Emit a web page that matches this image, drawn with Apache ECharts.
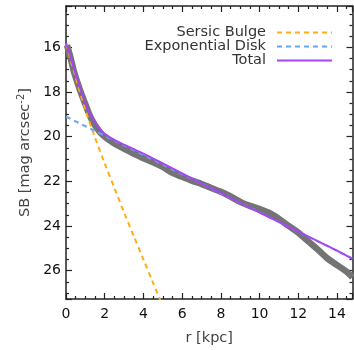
<!DOCTYPE html>
<html>
<head>
<meta charset="utf-8">
<script src="https://cdn.jsdelivr.net/npm/echarts@6/dist/echarts.min.js"></script>
<style>
html,body{margin:0;padding:0;background:#fff;}
#c{width:354px;height:350px;}
</style>
</head>
<body>
<div id="c"></div>
<script>
// Observed surface-brightness profile (gray band)
const rData  = [0.05,0.2,0.4,0.6,0.8,1.0,1.2,1.4,1.6,1.8,2.0,2.4,2.8,3.2,3.6,4.0,4.5,5.0,5.5,6.0,6.5,7.0,7.5,8.0,8.5,9.0,9.5,10.0,10.5,11.0,11.5,12.0,12.5,13.0,13.5,14.0,14.5,14.8];
const sbData = [15.9,16.35,17.05,17.6,18.1,18.55,19.0,19.35,19.62,19.84,20.0,20.25,20.45,20.62,20.8,20.97,21.15,21.36,21.62,21.8,21.97,22.12,22.3,22.47,22.68,22.92,23.1,23.24,23.42,23.68,24.0,24.3,24.68,25.05,25.45,25.75,26.05,26.3];

// Sersic bulge model
const rBulge  = [0,0.5,1.0,1.5,2.0,2.5,3.0,3.5,4.0,4.5,5.0];
const sbBulge = [15.85,17.35,18.8,20.05,21.2,22.3,23.4,24.45,25.5,26.55,27.6];

// Exponential disk model
const rDisk  = [0,14.8];
const sbDisk = [19.1,25.46];

// Total model
const rTotal  = [0,0.25,0.5,0.75,1.0,1.25,1.5,1.75,2.0,2.5,3.0,3.5,4.0,4.5,5.0,6.0,7.0,8.0,9.0,10.0,11.0,12.0,13.0,14.0,14.8];
const sbTotal = [15.8,16.48,17.2,17.88,18.52,19.0,19.38,19.66,19.88,20.15,20.36,20.56,20.76,20.98,21.2,21.65,22.1,22.52,22.97,23.4,23.82,24.25,24.68,25.1,25.47];

const seriesNames = ['Sersic Bulge','Exponential Disk','Total'];

const zip = (a,b) => a.map((v,i)=>[v,b[i]]);

const FONT = 'DejaVu Sans';
const axisLineStyle = {color:'#222', width:1.5};
const tickStyle = {color:'#222', width:1.2};

function xAx(pos, showLabel){
  return {
    type:'value', position:pos, min:0, max:14.8, interval:2,
    axisLine:{show:true, onZero:false, lineStyle:axisLineStyle},
    axisTick:{show:true, inside:true, length:6, lineStyle:tickStyle},
    minorTick:{show:true, splitNumber:4, length:3, lineStyle:tickStyle},
    splitLine:{show:false}, minorSplitLine:{show:false},
    axisLabel:{show:showLabel, showMaxLabel:false, margin:8, color:'#111', fontFamily:FONT, fontSize:14},
    name: showLabel ? 'r [kpc]' : '',
    nameLocation:'middle', nameGap:32,
    nameTextStyle:{color:'#444', fontFamily:FONT, fontSize:14.5}
  };
}
function yAx(pos, showLabel){
  return {
    type:'value', position:pos, inverse:true, min:14.15, max:27.27,
    minInterval:2, maxInterval:2, splitNumber:6,
    axisLine:{show:true, onZero:false, lineStyle:axisLineStyle},
    axisTick:{show:true, inside:true, length:6, lineStyle:tickStyle},
    minorTick:{show:true, splitNumber:4, length:3, lineStyle:tickStyle},
    splitLine:{show:false}, minorSplitLine:{show:false},
    axisLabel:{show:showLabel, showMinLabel:false, showMaxLabel:false, margin:5, color:'#111', fontFamily:FONT, fontSize:14},
    name: showLabel ? 'SB [mag arcsec{sup|-2}]' : '',
    nameLocation:'middle', nameGap:33,
    nameTextStyle:{color:'#444', fontFamily:FONT, fontSize:14.5,
      rich:{sup:{fontSize:10, color:'#444', fontFamily:FONT, verticalAlign:'top', padding:[0,0,6,0]}}}
  };
}

const chart = echarts.init(document.getElementById('c'), null, {renderer:'canvas'});
chart.setOption({
  animation:false,
  backgroundColor:'#fff',
  grid:{left:66, top:6, right:1.5, bottom:51, containLabel:false, outerBoundsMode:'none'},
  xAxis:[xAx('bottom', true), xAx('top', false)],
  yAxis:[yAx('left', true), yAx('right', false)],
  legend:{
    orient:'vertical', align:'right', right:16, top:20,
    itemWidth:55, itemHeight:10, itemGap:-1,
    data:seriesNames,
    itemStyle:{opacity:0},
    textStyle:{color:'#333', fontFamily:FONT, fontSize:14.5, lineHeight:14.5, padding:[0,6,0,0]}
  },
  series:[
    {name:'data', type:'line', data:zip(rData,sbData), showSymbol:false, smooth:0.3,
     lineStyle:{color:'#747474', width:6.5}, z:1, silent:true},
    {name:'Sersic Bulge', type:'line', data:zip(rBulge,sbBulge), showSymbol:false, symbol:'none', smooth:0.3,
     lineStyle:{color:'#ffad10', width:2, type:[5,4]}, itemStyle:{color:'#ffad10'}, z:2},
    {name:'Exponential Disk', type:'line', data:zip(rDisk,sbDisk), showSymbol:false, symbol:'none',
     lineStyle:{color:'#6ca4f0', width:2, type:[5,4]}, itemStyle:{color:'#6ca4f0'}, z:3},
    {name:'Total', type:'line', data:zip(rTotal,sbTotal), showSymbol:false, symbol:'none', smooth:0.3,
     lineStyle:{color:'#a645f2', width:2}, itemStyle:{color:'#a645f2'}, z:4}
  ]
});
</script>
</body>
</html>
